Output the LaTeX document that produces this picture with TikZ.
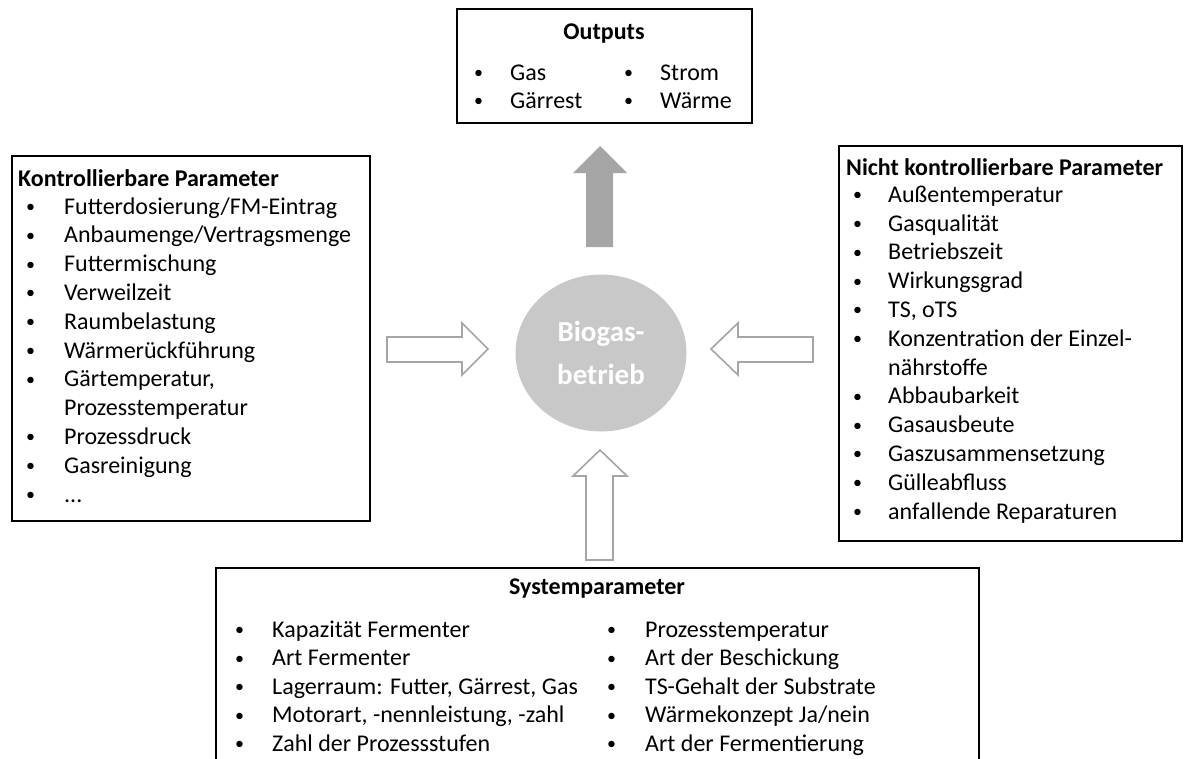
\documentclass[tikz,border=0pt]{standalone}
\usepackage{fontspec}
\setmainfont{Carlito}
\usepackage{xcolor}
\usetikzlibrary{shapes.geometric,positioning}

\definecolor{arrowgray}{HTML}{A5A5A5}
\definecolor{circlegray}{HTML}{C8C8C8}
\newcommand{\bul}{\raisebox{1.5pt}{\fontsize{18}{18}\selectfont•}}

\begin{document}
\begin{tikzpicture}[x=1pt, y=-1pt,
    frame/.style={rectangle, draw, line width=1.6pt, anchor=north west, inner sep=0pt},
    title/.style={inner sep=0pt, anchor=base, font=\fontsize{24}{28.8}\selectfont\bfseries},
    list/.style={inner sep=0pt, anchor=base west, font=\fontsize{24}{#1}\selectfont},
    outarrow/.style={fill=arrowgray, draw=none},
    inarrow/.style={draw=arrowgray, fill=white, line width=1.6pt, line join=miter}
]
    \clip (0,0) rectangle (1185,758);

    % Outputs
    \node[frame, minimum width=295pt, minimum height=114pt] (outbox) at (456,8) {};
    \node[title] (outtitle) at (604,39) {Outputs};
    \node[list=28] (outlist1) at (474,108) {\begin{tabular}[b]{@{}p{36pt}@{}l@{}}
        \bul&Gas\\
        \bul&Gärrest
    \end{tabular}};
    \node[list=28] (outlist2) at (624,108) {\begin{tabular}[b]{@{}p{36pt}@{}l@{}}
        \bul&Strom\\
        \bul&Wärme
    \end{tabular}};

    % Kontrollierbare Parameter
    \node[frame, minimum width=358pt, minimum height=365pt] (kontrbox) at (11,155) {};
    \node[title, anchor=base west] (kontrtitle) at (18,186) {Kontrollierbare Parameter};
    \node[list=28.8] (kontrlist) at (26,502) {\begin{tabular}[b]{@{}p{38pt}@{}l@{}}
        \bul&Futterdosierung/FM-Eintrag\\
        \bul&Anbaumenge/Vertragsmenge\\
        \bul&Futtermischung\\
        \bul&Verweilzeit\\
        \bul&Raumbelastung\\
        \bul&Wärmerückführung\\
        \bul&Gärtemperatur,\\
        &Prozesstemperatur\\
        \bul&Prozessdruck\\
        \bul&Gasreinigung\\
        \bul&...
    \end{tabular}};

    % Nicht kontrollierbare Parameter
    \node[frame, minimum width=343pt, minimum height=395pt] (nichtbox) at (838,145) {};
    \node[title, anchor=base west] (nichttitle) at (846,175) {Nicht kontrollierbare Parameter};
    \node[list=28.8] (nichtlist) at (853,519) {\begin{tabular}[b]{@{}p{35pt}@{}l@{}}
        \bul&Außentemperatur\\
        \bul&Gasqualität\\
        \bul&Betriebszeit\\
        \bul&Wirkungsgrad\\
        \bul&TS, oTS\\
        \bul&Konzentration der Einzel-\\
        &nährstoffe\\
        \bul&Abbaubarkeit\\
        \bul&Gasausbeute\\
        \bul&Gaszusammensetzung\\
        \bul&Gülleabfluss\\
        \bul&anfallende Reparaturen
    \end{tabular}};

    % Systemparameter
    \node[frame, minimum width=763pt, minimum height=220pt] (sysbox) at (215,567) {};
    \node[title] (systitle) at (597,594) {Systemparameter};
    \node[list=28.5] (syslist1) at (235,751) {\begin{tabular}[b]{@{}p{37pt}@{}l@{}}
        \bul&Kapazität Fermenter\\
        \bul&Art Fermenter\\
        \bul&Lagerraum: Futter, Gärrest, Gas\\
        \bul&Motorart, -nennleistung, -zahl\\
        \bul&Zahl der Prozessstufen
    \end{tabular}};
    \node[list=28.5] (syslist2) at (607,751) {\begin{tabular}[b]{@{}p{38pt}@{}l@{}}
        \bul&Prozesstemperatur\\
        \bul&Art der Beschickung\\
        \bul&TS-Gehalt der Substrate\\
        \bul&Wärmekonzept Ja/nein\\
        \bul&Art der Fermentierung
    \end{tabular}};

    % Biogasbetrieb
    \node[ellipse, fill=circlegray, minimum width=171pt, minimum height=157pt, inner sep=0pt,
          text=white, align=center, font=\fontsize{29}{43}\selectfont\bfseries] (betrieb) at (601,353) {Biogas-\\betrieb};

    % arrows
    \fill[outarrow] (586,247) -- (586,173) -- (573,173) -- (600,146) -- (627,173) -- (613,173) -- (613,247) -- cycle;
    \draw[inarrow] (387,337) -- (462,337) -- (462,323) -- (488,349) -- (462,375) -- (462,362) -- (387,362) -- cycle;
    \draw[inarrow] (813,337) -- (738,337) -- (738,323) -- (711,349) -- (738,375) -- (738,362) -- (813,362) -- cycle;
    \draw[inarrow] (586,560) -- (586,476) -- (573,476) -- (600,450) -- (627,476) -- (613,476) -- (613,560) -- cycle;
\end{tikzpicture}
\end{document}
